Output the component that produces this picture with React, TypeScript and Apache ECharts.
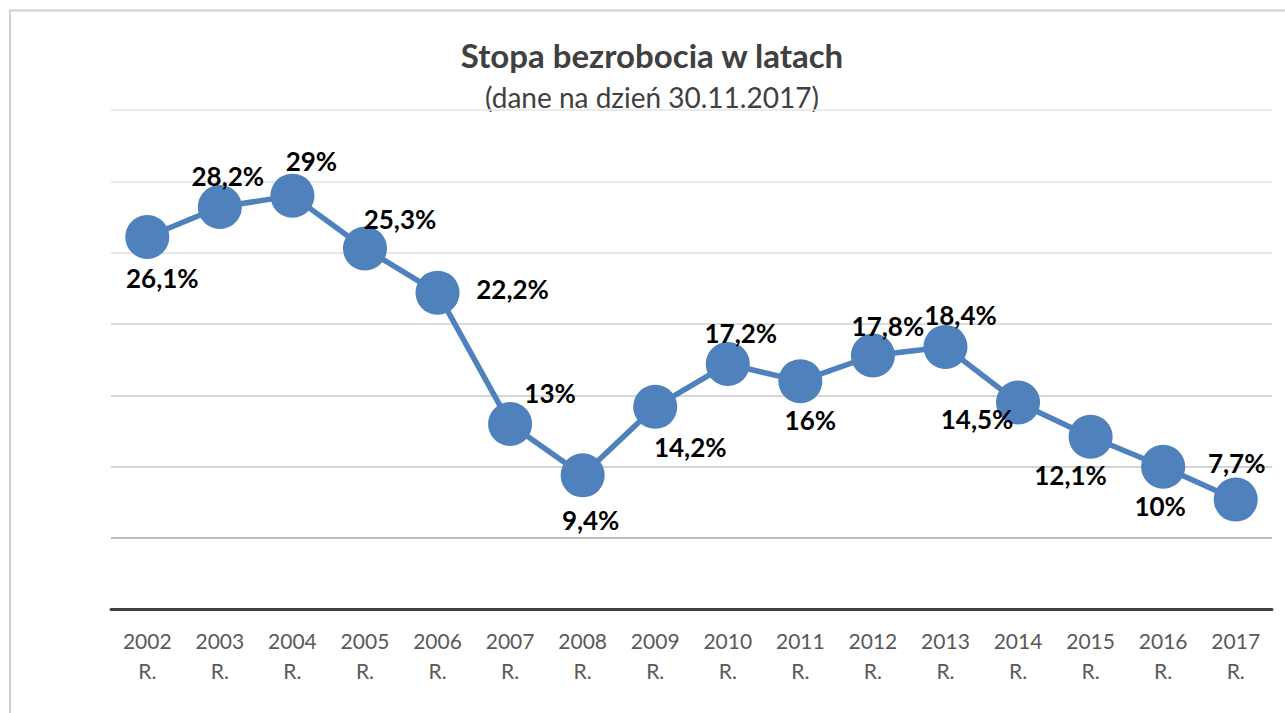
import React, { useEffect, useRef } from "react";
import * as echarts from "echarts";

const years = ["2002", "2003", "2004", "2005", "2006", "2007", "2008", "2009", "2010", "2011", "2012", "2013", "2014", "2015", "2016", "2017"];
const rates = [26.1, 28.2, 29, 25.3, 22.2, 13, 9.4, 14.2, 17.2, 16, 17.8, 18.4, 14.5, 12.1, 10, 7.7];
const labelOffsets: [number, number][] = [
  [15, 41], [8, -31], [19, -35], [35, -29], [75, -4], [40, -31], [8, 45], [35, 40],
  [13, -31], [10, 39], [15, -29], [15, -32], [-41, 16], [-20, 38], [-3, 39], [1, -37],
];
const titleText = "Stopa bezrobocia w latach";
const subtitleText = "(dane na dzień 30.11.2017)";
const gridColors = ["#d9d9d9", "#a6a6a6", "#c4c4c4", "#c8c8c8", "#d2d2d2", "#dedede", "#e2e2e2", "#e4e4e4"];

const FONT = "Lato, 'Open Sans', sans-serif";

export default function App() {
  const ref = useRef<HTMLDivElement>(null);
  useEffect(() => {
    document.body.style.margin = "0";
    const chart = echarts.init(ref.current!, null, { renderer: "svg" });
    chart.setOption({
      animation: false,
      backgroundColor: "#ffffff",
      graphic: [
        {
          type: "polyline",
          shape: { points: [[10, 713], [10, 10.5], [1285, 10.5]] },
          style: { stroke: "#d0d0d0", lineWidth: 2, fill: "none" },
          z: -1,
        },
        {
          type: "text",
          x: 652,
          y: 55,
          style: {
            text: titleText,
            font: `bold 33px ${FONT}`,
            fill: "#404040",
            align: "center",
            verticalAlign: "middle",
          },
        },
        {
          type: "text",
          x: 652,
          y: 97,
          style: {
            text: subtitleText,
            font: `28px ${FONT}`,
            fill: "#404040",
            align: "center",
            verticalAlign: "middle",
          },
        },
      ],
      grid: { left: 111, right: 13, top: 110, bottom: 103.5, containLabel: false },
      xAxis: {
        type: "category",
        data: years,
        boundaryGap: true,
        axisLine: { show: true, lineStyle: { color: "#404040", width: 3 } },
        axisTick: { show: false },
        axisLabel: {
          formatter: (v: string) => `${v}\nR.`,
          fontFamily: FONT,
          fontSize: 21,
          lineHeight: 30,
          color: "#595959",
          margin: 16,
          interval: 0,
        },
      },
      yAxis: {
        type: "value",
        min: 0,
        max: 35,
        interval: 5,
        axisLine: { show: false },
        axisTick: { show: false },
        axisLabel: { show: false },
        splitLine: { show: true, lineStyle: { color: gridColors, width: 1.5 } },
      },
      series: [
        {
          type: "line",
          data: rates.map((v, i) => ({
            value: v,
            label: {
              show: true,
              position: "inside",
              offset: labelOffsets[i],
            },
          })),
          symbol: "circle",
          symbolSize: 44,
          lineStyle: { color: "#4f81bd", width: 5.5 },
          itemStyle: { color: "#4f81bd" },
          label: {
            show: true,
            formatter: (p: any) => `${String(p.value).replace(".", ",")}%`,
            fontFamily: FONT,
            fontWeight: "bold",
            fontSize: 26,
            color: "#000000",
          },
          z: 3,
        },
      ],
    });
    return () => chart.dispose();
  }, []);
  return <div ref={ref} style={{ width: 1285, height: 713 }} />;
}
